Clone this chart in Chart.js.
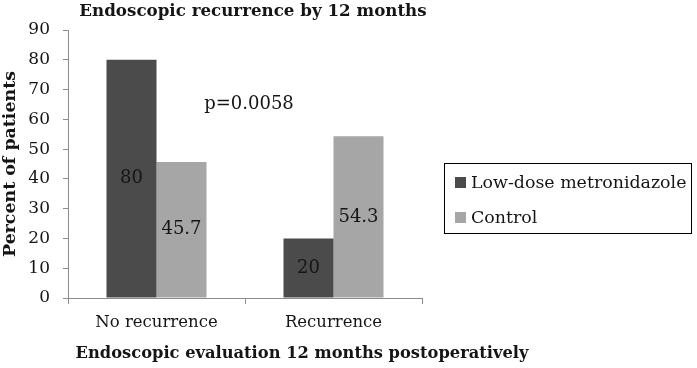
<!DOCTYPE html>
<html><head><meta charset="utf-8">
<script src="https://cdn.jsdelivr.net/npm/chart.js@4.4.0/dist/chart.umd.min.js"></script>
<style>html,body{margin:0;padding:0;background:#fff}#wrap{width:697px;height:368px;position:relative}</style>
</head><body><div id="wrap"><canvas id="c" width="697" height="368"></canvas></div>
<script>
const categories = ["No recurrence", "Recurrence"];
const seriesNames = ["Low-dose metronidazole", "Control"];
const metronidazole = [80, 20];
const control = [45.7, 54.3];
const seriesColors = ["#4b4b4b", "#a6a6a6"];
const yMin = 0, yMax = 90, yStep = 10;
const chartTitle = "Endoscopic recurrence by 12 months";
const xTitle = "Endoscopic evaluation 12 months postoperatively";
const yTitle = "Percent of patients";
const pValueText = "p=0.0058";
const pValueY = 65;

const FONT = "'DejaVu Serif', serif";
const axisColor = "#8c8c8c";
const textColor = "#151515";

const textPlugin = {
  id: 'textPlugin',
  afterDatasetsDraw(chart) {
    const ctx = chart.ctx;
    const xs = chart.scales.x, ys = chart.scales.y;
    ctx.save();
    ctx.font = "18px " + FONT;
    ctx.fillStyle = textColor;
    ctx.textAlign = "center";
    ctx.textBaseline = "middle";
    chart.data.datasets.forEach((ds, i) => {
      chart.getDatasetMeta(i).data.forEach((el, j) => {
        ctx.fillText(String(ds.data[j]), el.x, (el.y + el.base) / 2);
      });
    });
    // p-value annotation between the two categories
    const px = (xs.getPixelForValue(0) + xs.getPixelForValue(1)) / 2 + 4;
    ctx.fillText(pValueText, px, ys.getPixelForValue(pValueY));
    ctx.restore();
  },
  afterDraw(chart) {
    const ctx = chart.ctx;
    const ca = chart.chartArea;
    ctx.save();
    ctx.fillStyle = textColor;
    ctx.textAlign = "center";
    ctx.textBaseline = "middle";
    // chart title
    ctx.font = "bold 16.7px " + FONT;
    ctx.fillText(chartTitle, ca.left + 185, 12);
    // x axis title
    ctx.font = "bold 16.3px " + FONT;
    ctx.fillText(xTitle, ca.left + 234, 354);
    // legend with border
    const left = ca.right + 22, top = 163, w = 247, h = 70;
    ctx.strokeStyle = "#000";
    ctx.lineWidth = 1;
    ctx.strokeRect(left + 0.5, top + 0.5, w, h);
    ctx.font = "17.4px " + FONT;
    ctx.textAlign = "left";
    chart.data.datasets.forEach((ds, i) => {
      const cy = top + 19 + i * 35;
      ctx.fillStyle = ds.backgroundColor;
      ctx.fillRect(left + 11, cy - 5, 11, 11);
      ctx.fillStyle = textColor;
      ctx.fillText(ds.label, left + 27, cy + 1);
    });
    ctx.restore();
  }
};

new Chart(document.getElementById('c'), {
  type: 'bar',
  data: {
    labels: categories,
    datasets: [
      { label: seriesNames[0], data: metronidazole, backgroundColor: seriesColors[0] },
      { label: seriesNames[1], data: control, backgroundColor: seriesColors[1] }
    ]
  },
  options: {
    responsive: false,
    animation: false,
    layout: { padding: { left: 0, right: 275, top: 30, bottom: 0 } },
    datasets: { bar: { categoryPercentage: 0.565, barPercentage: 1.0 } },
    plugins: {
      legend: { display: false },
      tooltip: { enabled: false },
      title: { display: false }
    },
    scales: {
      x: {
        grid: { display: true, drawOnChartArea: false, drawTicks: true, tickLength: 6, color: axisColor, offset: true },
        border: { color: axisColor, width: 1 },
        ticks: { color: textColor, font: { family: FONT, size: 16.5 }, padding: 9 },
        afterFit(s) { s.height = 70; }
      },
      y: {
        min: yMin, max: yMax,
        grid: { display: true, drawOnChartArea: false, drawTicks: true, tickLength: 5, color: axisColor },
        border: { color: axisColor, width: 1 },
        ticks: { stepSize: yStep, color: textColor, font: { family: FONT, size: 17 }, padding: 13 },
        title: { display: true, text: yTitle, color: textColor, font: { family: FONT, size: 17.4, weight: 'bold' }, padding: { top: 0, bottom: 4 } },
        afterFit(s) { s.width = 68; }
      }
    }
  },
  plugins: [textPlugin]
});
</script>
</body></html>
